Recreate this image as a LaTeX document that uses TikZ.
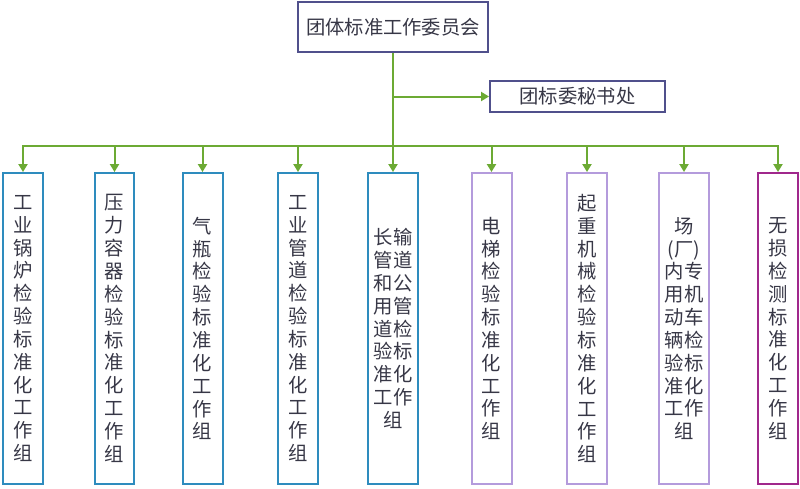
\documentclass[tikz,border=0pt]{standalone}
\usepackage{fontspec}
\setmainfont{Noto Sans CJK SC}
\usetikzlibrary{positioning,arrows.meta}
\definecolor{orgText}{RGB}{55,55,70}
\definecolor{orgNavy}{RGB}{80,80,140}
\definecolor{orgGreen}{RGB}{108,170,52}
\definecolor{orgBlue}{RGB}{46,140,190}
\definecolor{orgLilac}{RGB}{180,155,220}
\definecolor{orgMagenta}{RGB}{160,40,140}

\begin{document}
\begin{tikzpicture}[x=0.02cm, y=-0.02cm,
    every node/.style={text=orgText, font=\fontsize{11pt}{13pt}\selectfont, inner sep=0pt, align=center},
    headbox/.style={draw=orgNavy, line width=0.04cm},
    groupbox/.style={draw=#1, line width=0.04cm, minimum width=0.8cm, minimum height=6.22cm},
    widebox/.style={groupbox=#1, minimum width=1.0cm},
    link/.style={draw=orgGreen, line width=0.04cm},
    arr/.style={link, -{Triangle[length=0.16cm, width=0.18cm]}}]
  \useasboundingbox (0,0) rectangle (800,488);

  % Committee and secretariat
  \node[headbox, minimum width=3.8cm, minimum height=1.0cm] (wyh) at (393,27) {团体标准工作委员会};
  \node[headbox, minimum width=3.5cm, minimum height=0.62cm] (msc) at (577.5,96.5) {团标委秘书处};

  % Working groups
  \node[groupbox=orgBlue] (g1) at (23,328.5) {工\\业\\锅\\炉\\检\\验\\标\\准\\化\\工\\作\\组};
  \node[groupbox=orgBlue] (g2) at (114.5,328.5) {压\\力\\容\\器\\检\\验\\标\\准\\化\\工\\作\\组};
  \node[groupbox=orgBlue] (g3) at (202.5,328.5) {气\\瓶\\检\\验\\标\\准\\化\\工\\作\\组};
  \node[groupbox=orgBlue] (g4) at (298,328.5) {工\\业\\管\\道\\检\\验\\标\\准\\化\\工\\作\\组};
  \node[widebox=orgBlue] (g5) at (393,328.5) {长输\\管道\\和公\\用管\\道检\\验标\\准化\\工作\\组};
  \node[groupbox=orgLilac] (g6) at (491.5,328.5) {电\\梯\\检\\验\\标\\准\\化\\工\\作\\组};
  \node[groupbox=orgLilac] (g7) at (587,328.5) {起\\重\\机\\械\\检\\验\\标\\准\\化\\工\\作\\组};
  \node[widebox=orgLilac] (g8) at (684,328.5) {场\\(厂)\\内专\\用机\\动车\\辆检\\验标\\准化\\工作\\组};
  \node[groupbox=orgMagenta] (g9) at (778,328.5) {无\\损\\检\\测\\标\\准\\化\\工\\作\\组};

  % Connectors
  \coordinate (bus) at (393,146);
  \draw[arr] (wyh.south) -- (g5.north);
  \draw[arr] (wyh.south |- msc.west) -- (msc.west);
  \draw[arr] (bus) -| (g1.north);
  \draw[arr] (bus) -| (g9.north);
  \foreach \g in {g2,g3,g4,g6,g7,g8}
    \draw[arr] (\g.north |- bus) -- (\g.north);
\end{tikzpicture}
\end{document}
